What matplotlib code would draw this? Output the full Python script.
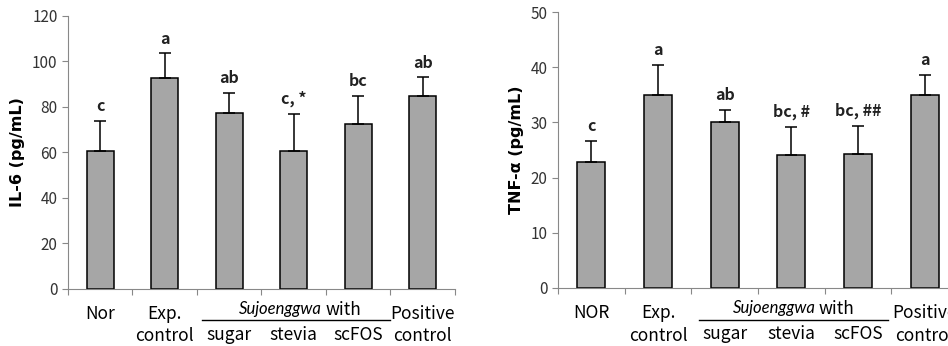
import matplotlib
matplotlib.use("Agg")
import matplotlib.pyplot as plt
import numpy as np

plt.rcParams['font.family'] = ['Noto Sans CJK KR', 'DejaVu Sans']

# data
groups = ["Nor", "Exp.\ncontrol", "sugar", "stevia", "scFOS", "Positive\ncontrol"]
groups_r = ["NOR", "Exp.\ncontrol", "sugar", "stevia", "scFOS", "Positive\ncontrol"]
il6 = [60.5, 92.5, 77.5, 60.5, 72.5, 85.0]
il6_err = [13.3, 11.0, 8.5, 16.3, 12.5, 8.0]
il6_sig = ["c", "a", "ab", "c, *", "bc", "ab"]
tnf = [22.8, 35.0, 30.0, 24.1, 24.3, 35.0]
tnf_err = [3.8, 5.4, 2.3, 5.0, 5.0, 3.6]
tnf_sig = ["c", "a", "ab", "bc, #", "bc, ##", "a"]

fig = plt.figure(figsize=(9.48, 3.46), dpi=100)
ax1 = fig.add_axes([0.0717, 0.165, 0.408, 0.789])
ax2 = fig.add_axes([0.5886, 0.168, 0.422, 0.797])


def panel(ax, vals, errs, sig, names, ymax, step, ylabel, line_x, split_x):
    x = np.arange(len(vals))
    ax.bar(x, vals, width=0.42, color="#a6a6a6", edgecolor="black", linewidth=1.1, zorder=2)
    ax.errorbar(x, vals, yerr=[np.zeros(len(errs)), errs], fmt="none", ecolor="black",
                elinewidth=1.1, capsize=4, capthick=1.1, zorder=3)
    for xi, v, e, s in zip(x, vals, errs, sig):
        ax.text(xi, v + e + ymax * 0.025, s, ha="center", va="bottom", fontsize=11.5,
                fontweight="bold", color="#222222")
    ax.set_xlim(-0.5, len(vals) - 0.5)
    ax.set_ylim(0, ymax)
    ax.set_yticks(np.arange(0, ymax + 1, step))
    ax.set_xticks(np.arange(-0.5, len(vals), 1.0))
    ax.set_xticklabels([])
    for sp in ["top", "right"]:
        ax.spines[sp].set_visible(False)
    for sp in ["left", "bottom"]:
        ax.spines[sp].set_color("#888888")
    ax.tick_params(axis="both", colors="#888888", labelcolor="#333333", labelsize=11,
                   direction="out", length=4)
    ax.set_ylabel(ylabel, fontsize=11.5, fontweight="bold", family=["DejaVu Sans"], labelpad=5)
    # category labels under the axis
    tr = ax.get_xaxis_transform()
    for i, n in enumerate(names):
        if i in (2, 3, 4):
            ax.text(i, -0.135, n, transform=tr, ha="center", va="top", fontsize=12.5,
                    fontweight="medium", color="black", clip_on=False)
        else:
            ax.text(i, -0.06, n, transform=tr, ha="center", va="top", fontsize=12.5,
                    fontweight="medium", color="black", linespacing=1.3, clip_on=False)
    ax.text(split_x, -0.045, "Sujoenggwa", transform=tr, ha="right", va="top",
            fontsize=12, style="italic", family=["Lato"], color="black", clip_on=False)
    ax.text(split_x + 0.05, -0.045, "with", transform=tr, ha="left", va="top",
            fontsize=12.5, fontweight="medium", color="black", clip_on=False)
    ax.plot(line_x, [-0.115, -0.115], transform=tr, color="black", lw=1.0, clip_on=False)


panel(ax1, il6, il6_err, il6_sig, groups, 120, 20, "IL-6 (pg/mL)", [1.58, 4.49], 3.44)
panel(ax2, tnf, tnf_err, tnf_sig, groups_r, 50, 10, "TNF-α (pg/mL)", [1.61, 4.45], 3.36)

fig.savefig("out.png", dpi=100)
